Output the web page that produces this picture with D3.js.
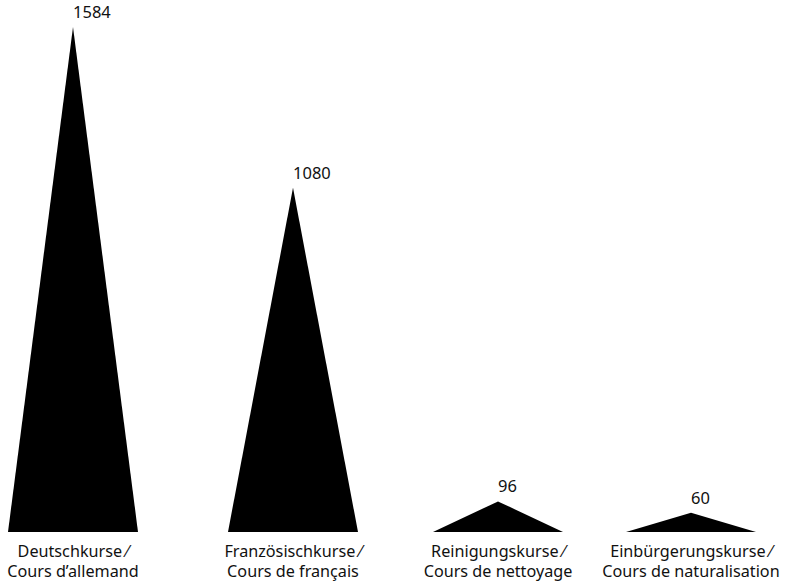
<!DOCTYPE html>
<html>
<head>
<meta charset="utf-8">
<script src="https://cdn.jsdelivr.net/npm/d3@7"></script>
<style>
  body { margin: 0; background: #fff; }
  text { font-family: "Noto Sans", sans-serif; fill: #111; }
</style>
</head>
<body>
<svg id="chart" width="788" height="583"></svg>
<script>
var categories = ["Deutschkurse", "Französischkurse", "Reinigungskurse", "Einbürgerungskurse"];
var labelsFr = ["Cours d\u2019allemand", "Cours de français", "Cours de nettoyage", "Cours de naturalisation"];
var values = [1584, 1080, 96, 60];

var width = 788, height = 583;
var baseY = 532, topY = 27, halfBase = 65;
// column centres are not evenly spaced in the original
var colCenters = [73, 293, 498, 691];

var svg = d3.select("#chart");

var x = d3.scaleOrdinal().domain(categories).range(colCenters);
var y = d3.scaleLinear().domain([0, d3.max(values)]).range([baseY, topY]);

var data = categories.map(function (c, i) {
    return { name: c, fr: labelsFr[i], value: values[i] };
});

var g = svg.selectAll(".col")
    .data(data)
  .enter().append("g")
    .attr("class", "col");

g.append("path")
    .attr("fill", "#000")
    .attr("d", function (d) {
        var cx = x(d.name);
        return "M" + (cx - halfBase) + "," + baseY +
               "L" + cx + "," + y(d.value) +
               "L" + (cx + halfBase) + "," + baseY + "Z";
    });

g.append("text")
    .attr("x", function (d) { return x(d.name); })
    .attr("y", function (d) { return y(d.value) - 9; })
    .attr("font-size", 16.5)
    .text(function (d) { return d.value; });

var lbl = g.append("text")
    .attr("text-anchor", "middle")
    .attr("font-size", 16.2);
lbl.append("tspan")
    .attr("x", function (d) { return x(d.name); })
    .attr("y", 557)
    .text(function (d) { return d.name + " \u2044"; });
lbl.append("tspan")
    .attr("x", function (d) { return x(d.name); })
    .attr("y", 577)
    .text(function (d) { return d.fr; });
</script>
</body>
</html>
